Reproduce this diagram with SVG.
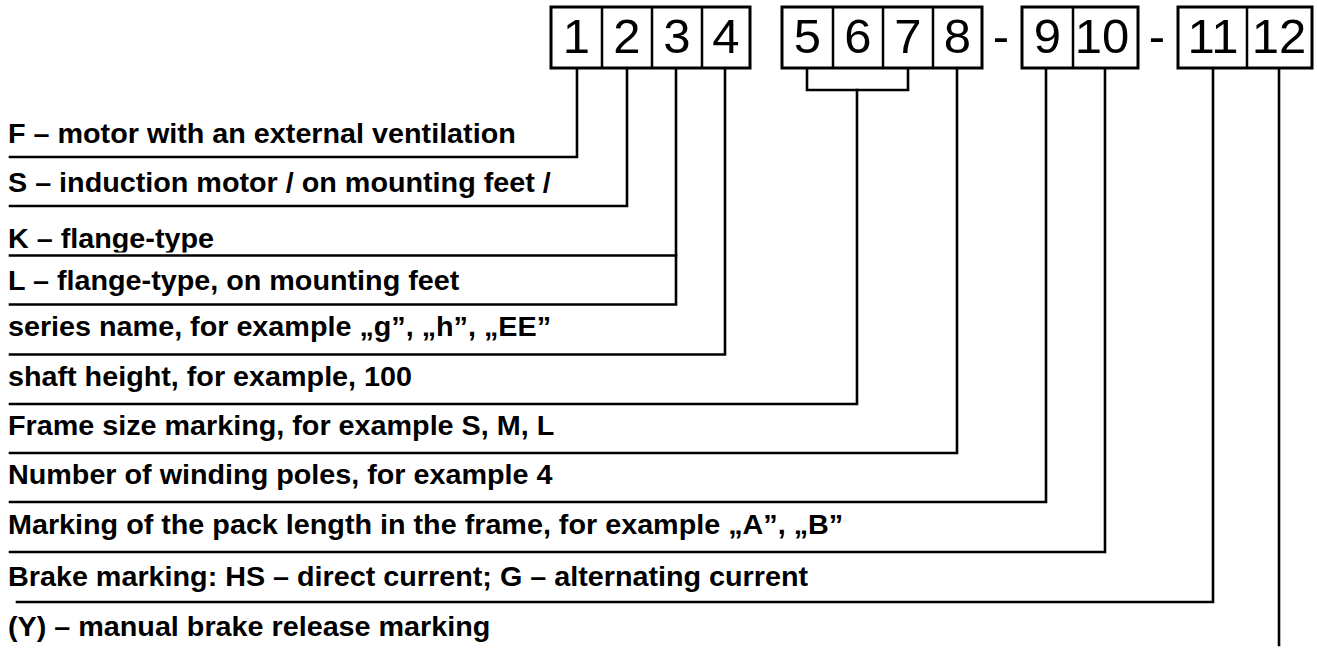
<svg xmlns="http://www.w3.org/2000/svg" width="1317" height="650" viewBox="0 0 1317 650">
<style>
.box{fill:#fff;stroke:#000;stroke-width:3}
.sep{stroke:#000;stroke-width:2.5}
.num{font-family:"Liberation Sans",Arial,sans-serif;font-size:49px;fill:#000;text-anchor:middle}
.lbl{font-family:"Liberation Sans",Arial,sans-serif;font-size:27px;font-weight:bold;fill:#000}
.con{fill:none;stroke:#000;stroke-width:2.6;stroke-linecap:square;stroke-linejoin:miter}
</style>
<defs>
<clipPath id="kclip"><rect x="0" y="200" width="700" height="52.5"/></clipPath>
</defs>
<rect width="1317" height="650" fill="#fff"/>

<g id="group1">
<rect class="box" x="551" y="7" width="199" height="61"/>
<line class="sep" x1="602" y1="7" x2="602" y2="68"/>
<line class="sep" x1="652" y1="7" x2="652" y2="68"/>
<line class="sep" x1="702" y1="7" x2="702" y2="68"/>
<text class="num" x="576.5" y="53">1</text>
<text class="num" x="627" y="53">2</text>
<text class="num" x="677" y="53">3</text>
<text class="num" x="726" y="53">4</text>
</g>
<g id="group2">
<rect class="box" x="782" y="7" width="200" height="61"/>
<line class="sep" x1="833" y1="7" x2="833" y2="68"/>
<line class="sep" x1="883" y1="7" x2="883" y2="68"/>
<line class="sep" x1="933" y1="7" x2="933" y2="68"/>
<text class="num" x="807.5" y="53">5</text>
<text class="num" x="858" y="53">6</text>
<text class="num" x="908" y="53">7</text>
<text class="num" x="957.5" y="53">8</text>
</g>
<g id="dash1"><text class="num" x="1001" y="53">-</text></g>
<g id="group3">
<rect class="box" x="1022" y="7" width="116" height="61"/>
<line class="sep" x1="1073" y1="7" x2="1073" y2="68"/>
<text class="num" x="1047.5" y="53">9</text>
<text class="num" x="1102" y="53">10</text>
</g>
<g id="dash2"><text class="num" x="1157" y="53">-</text></g>
<g id="group4">
<rect class="box" x="1178" y="7" width="134" height="61"/>
<line class="sep" x1="1247" y1="7" x2="1247" y2="68"/>
<text class="num" x="1213" y="53">11</text>
<text class="num" x="1279" y="53">12</text>
</g>

<g id="connectors">
<polyline class="con" points="10,157 577,157 577,69"/>
<polyline class="con" points="10,206 627,206 627,69"/>
<polyline class="con" points="10,255.5 676,255.5"/>
<polyline class="con" points="10,304.5 676,304.5 676,69"/>
<polyline class="con" points="10,354.5 725,354.5 725,69"/>
<polyline class="con" points="807,69 807,90 908,90 908,69"/>
<polyline class="con" points="10,404 857,404 857,90"/>
<polyline class="con" points="10,453 957,453 957,69"/>
<polyline class="con" points="10,502 1046,502 1046,69"/>
<polyline class="con" points="10,552 1105,552 1105,69"/>
<polyline class="con" points="17,602 1213,602 1213,69"/>
<line class="con" x1="1279" y1="69" x2="1279" y2="645"/>
</g>

<g id="labels" transform="scale(1.065,1)">
<text class="lbl" x="7.5" y="143">F – motor with an external ventilation</text>
<text class="lbl" x="7.5" y="192">S – induction motor / on mounting feet /</text>
<text class="lbl" x="7.5" y="248" clip-path="url(#kclip)">K – flange-type</text>
<text class="lbl" x="7.5" y="290">L – flange-type, on mounting feet</text>
<text class="lbl" x="7.5" y="336.5">series name, for example „g”, „h”, „EE”</text>
<text class="lbl" x="7.5" y="386">shaft height, for example, 100</text>
<text class="lbl" x="7.5" y="435">Frame size marking, for example S, M, L</text>
<text class="lbl" x="7.5" y="484">Number of winding poles, for example 4</text>
<text class="lbl" x="7.5" y="534">Marking of the pack length in the frame, for example „A”, „B”</text>
<text class="lbl" x="7.5" y="586">Brake marking: HS – direct current; G – alternating current</text>
<text class="lbl" x="7.5" y="636">(Y) – manual brake release marking</text>
</g>
</svg>
